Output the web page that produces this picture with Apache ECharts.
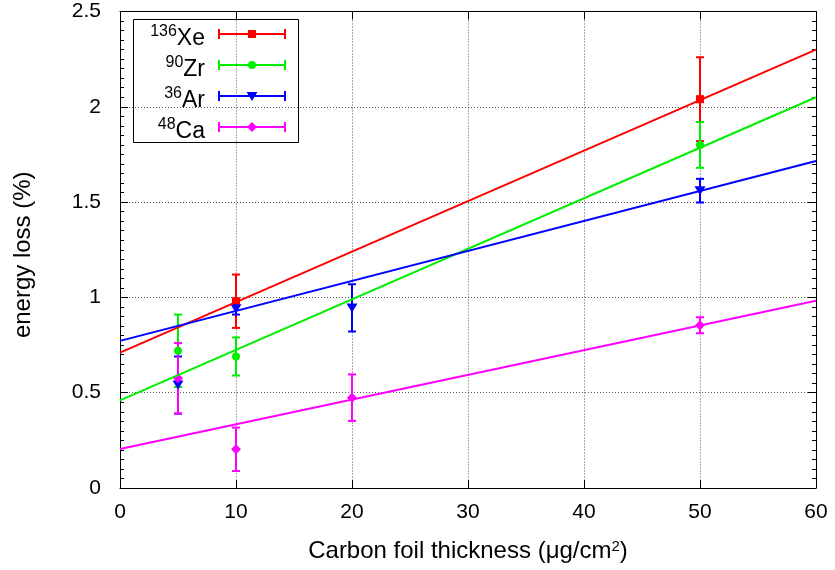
<!DOCTYPE html>
<html>
<head>
<meta charset="utf-8">
<script src="https://cdn.jsdelivr.net/npm/echarts@6/dist/echarts.min.js"></script>
<style>
  html, body { margin: 0; padding: 0; background: #fff; }
  #chart { width: 835px; height: 570px; }
</style>
</head>
<body>
<div id="chart"></div>
<script>
// Energy loss in carbon foils: thickness (µg/cm²) vs. relative energy loss (%)
// Measured points: thickness, loss value, symmetric error
const thickXe = [10, 50];
const lossXe  = [0.98, 2.04];
const errXe   = [0.14, 0.22];

const thickZr = [5, 10, 50];
const lossZr  = [0.72, 0.69, 1.80];
const errZr   = [0.19, 0.10, 0.12];

const thickAr = [5, 10, 20, 50];
const lossAr  = [0.54, 0.94, 0.945, 1.56];
const errAr   = [0.15, 0.03, 0.124, 0.062];

const thickCa = [5, 10, 20, 50];
const lossCa  = [0.576, 0.203, 0.474, 0.854];
const errCa   = [0.185, 0.114, 0.122, 0.042];

// Linear fits, evaluated at the ends of the thickness range
const fitRange = [0, 60];
const fitXe = [0.71, 2.30];
const fitZr = [0.46, 2.05];
const fitAr = [0.772, 1.716];
const fitCa = [0.205, 0.982];

// Legend labels: mass number (superscript) and element symbol
const massNumbers = ['136', '90', '36', '48'];
const elements = ['Xe', 'Zr', 'Ar', 'Ca'];

const FONT = 'Liberation Sans, Arial, Helvetica, sans-serif';

const groups = [
  { color: '#ff0000', xs: thickXe, ys: lossXe, es: errXe, fit: fitXe, symbol: 'rect', size: 8, rotate: 0 },
  { color: '#00ee00', xs: thickZr, ys: lossZr, es: errZr, fit: fitZr, symbol: 'circle', size: 8, rotate: 0 },
  { color: '#0000ff', xs: thickAr, ys: lossAr, es: errAr, fit: fitAr, symbol: 'triangle', size: [11, 9], rotate: 180 },
  { color: '#ff00ff', xs: thickCa, ys: lossCa, es: errCa, fit: fitCa, symbol: 'diamond', size: 10, rotate: 0 }
];
groups.forEach((g, i) => { g.name = elements[i]; g.mass = massNumbers[i]; });

function errorBarSeries(g) {
  return {
    name: g.name,
    type: 'custom',
    silent: true,
    itemStyle: { color: g.color },
    data: g.xs.map((x, i) => [x, g.ys[i], g.es[i]]),
    encode: { x: 0, y: 1 },
    renderItem: function (params, api) {
      const x = api.value(0), y = api.value(1), e = api.value(2);
      const top = api.coord([x, y + e]);
      const bot = api.coord([x, y - e]);
      const hw = 4;
      const st = { stroke: g.color, lineWidth: 2 };
      return {
        type: 'group',
        children: [
          { type: 'line', shape: { x1: top[0], y1: top[1], x2: bot[0], y2: bot[1] }, style: st },
          { type: 'line', shape: { x1: top[0] - hw, y1: top[1], x2: top[0] + hw, y2: top[1] }, style: st },
          { type: 'line', shape: { x1: bot[0] - hw, y1: bot[1], x2: bot[0] + hw, y2: bot[1] }, style: st }
        ]
      };
    }
  };
}

const series = [];
groups.forEach(g => {
  series.push({
    name: g.name,
    type: 'line',
    silent: true,
    symbol: 'none',
    data: fitRange.map((x, i) => [x, g.fit[i]]),
    lineStyle: { color: g.color, width: 2 },
    itemStyle: { color: g.color }
  });
  series.push(errorBarSeries(g));
  series.push({
    name: g.name,
    type: 'scatter',
    silent: true,
    symbol: g.symbol,
    symbolSize: g.size,
    symbolRotate: g.rotate,
    data: g.xs.map((x, i) => [x, g.ys[i]]),
    itemStyle: { color: g.color, opacity: 1 }
  });
});

// Key box in the upper-left corner: label, error-bar sample and marker per species
const key = { left: 133.5, top: 19.5, width: 165, height: 123, rowY: 34, rowStep: 31, textRight: 205, x1: 219, x2: 285 };
function keyMarker(g, cx, cy) {
  const fill = { fill: g.color };
  if (g.symbol === 'rect') return { type: 'rect', shape: { x: cx - 4, y: cy - 4, width: 8, height: 8 }, style: fill };
  if (g.symbol === 'circle') return { type: 'circle', shape: { cx: cx, cy: cy, r: 4 }, style: fill };
  if (g.symbol === 'triangle') return { type: 'polygon', shape: { points: [[cx - 5.5, cy - 4], [cx + 5.5, cy - 4], [cx, cy + 5]] }, style: fill };
  return { type: 'polygon', shape: { points: [[cx, cy - 5], [cx + 5, cy], [cx, cy + 5], [cx - 5, cy]] }, style: fill };
}
const keyElements = [{
  type: 'rect',
  shape: { x: key.left, y: key.top, width: key.width, height: key.height },
  style: { fill: '#fff', stroke: '#000', lineWidth: 1 }
}];
groups.forEach((g, i) => {
  const cy = key.rowY + i * key.rowStep;
  const cx = (key.x1 + key.x2) / 2;
  const st = { stroke: g.color, lineWidth: 2 };
  keyElements.push(
    {
      type: 'text',
      style: {
        x: key.textRight, y: cy + 3, align: 'right', verticalAlign: 'middle',
        text: '{sup|' + g.mass + '}{el|' + g.name + '}',
        rich: {
          sup: { fontSize: 16, lineHeight: 8, verticalAlign: 'top', fontFamily: FONT, fill: '#000' },
          el: { fontSize: 23, lineHeight: 26, verticalAlign: 'bottom', fontFamily: FONT, fill: '#000' }
        }
      }
    },
    { type: 'line', shape: { x1: key.x1, y1: cy, x2: key.x2, y2: cy }, style: st },
    { type: 'line', shape: { x1: key.x1, y1: cy - 5, x2: key.x1, y2: cy + 5 }, style: st },
    { type: 'line', shape: { x1: key.x2, y1: cy - 5, x2: key.x2, y2: cy + 5 }, style: st },
    keyMarker(g, cx, cy)
  );
});

const gridLine = { show: true, lineStyle: { color: '#555', type: [1, 2], width: 1 } };
const borderLine = { show: true, onZero: false, lineStyle: { color: '#000', width: 1 } };
const ticks = { show: true, inside: true, length: 8, lineStyle: { color: '#000' } };
const minorTicks = { show: true, splitNumber: 10, length: 4, lineStyle: { color: '#000' } };

const chart = echarts.init(document.getElementById('chart'), null, { renderer: 'canvas' });
chart.setOption({
  animation: false,
  backgroundColor: '#fff',
  textStyle: { fontFamily: FONT },
  grid: { left: 120, right: 19, top: 11.5, bottom: 82, containLabel: false },
  xAxis: [
    {
      type: 'value', min: 0, max: 60, interval: 10, position: 'bottom',
      axisLine: borderLine,
      axisTick: ticks,
      axisLabel: { fontSize: 21, color: '#000', margin: 14, fontFamily: FONT },
      splitLine: gridLine,
      name: 'Carbon foil thickness (μg/cm{sup|2})',
      nameLocation: 'middle',
      nameGap: 51,
      nameTextStyle: {
        fontSize: 24, color: '#000', fontFamily: FONT,
        rich: { sup: { fontSize: 15, verticalAlign: 'top', lineHeight: 12, color: '#000', fontFamily: FONT } }
      }
    },
    {
      type: 'value', min: 0, max: 60, interval: 10, position: 'top',
      axisLine: borderLine,
      axisTick: ticks,
      axisLabel: { show: false },
      splitLine: { show: false }
    }
  ],
  yAxis: [
    {
      type: 'value', min: 0, max: 2.5, interval: 0.5, position: 'left',
      axisLine: borderLine,
      axisTick: ticks,
      minorTick: minorTicks,
      axisLabel: { fontSize: 21, color: '#000', margin: 19, fontFamily: FONT },
      splitLine: gridLine,
      name: 'energy loss (%)',
      nameLocation: 'middle',
      nameGap: 85,
      nameTextStyle: { fontSize: 24, color: '#000', fontFamily: FONT, padding: [0, 10, 0, 0] }
    },
    {
      type: 'value', min: 0, max: 2.5, interval: 0.5, position: 'right',
      axisLine: borderLine,
      axisTick: ticks,
      minorTick: minorTicks,
      axisLabel: { show: false },
      splitLine: { show: false }
    }
  ],
  graphic: { elements: keyElements },
  series: series
});
</script>
</body>
</html>
